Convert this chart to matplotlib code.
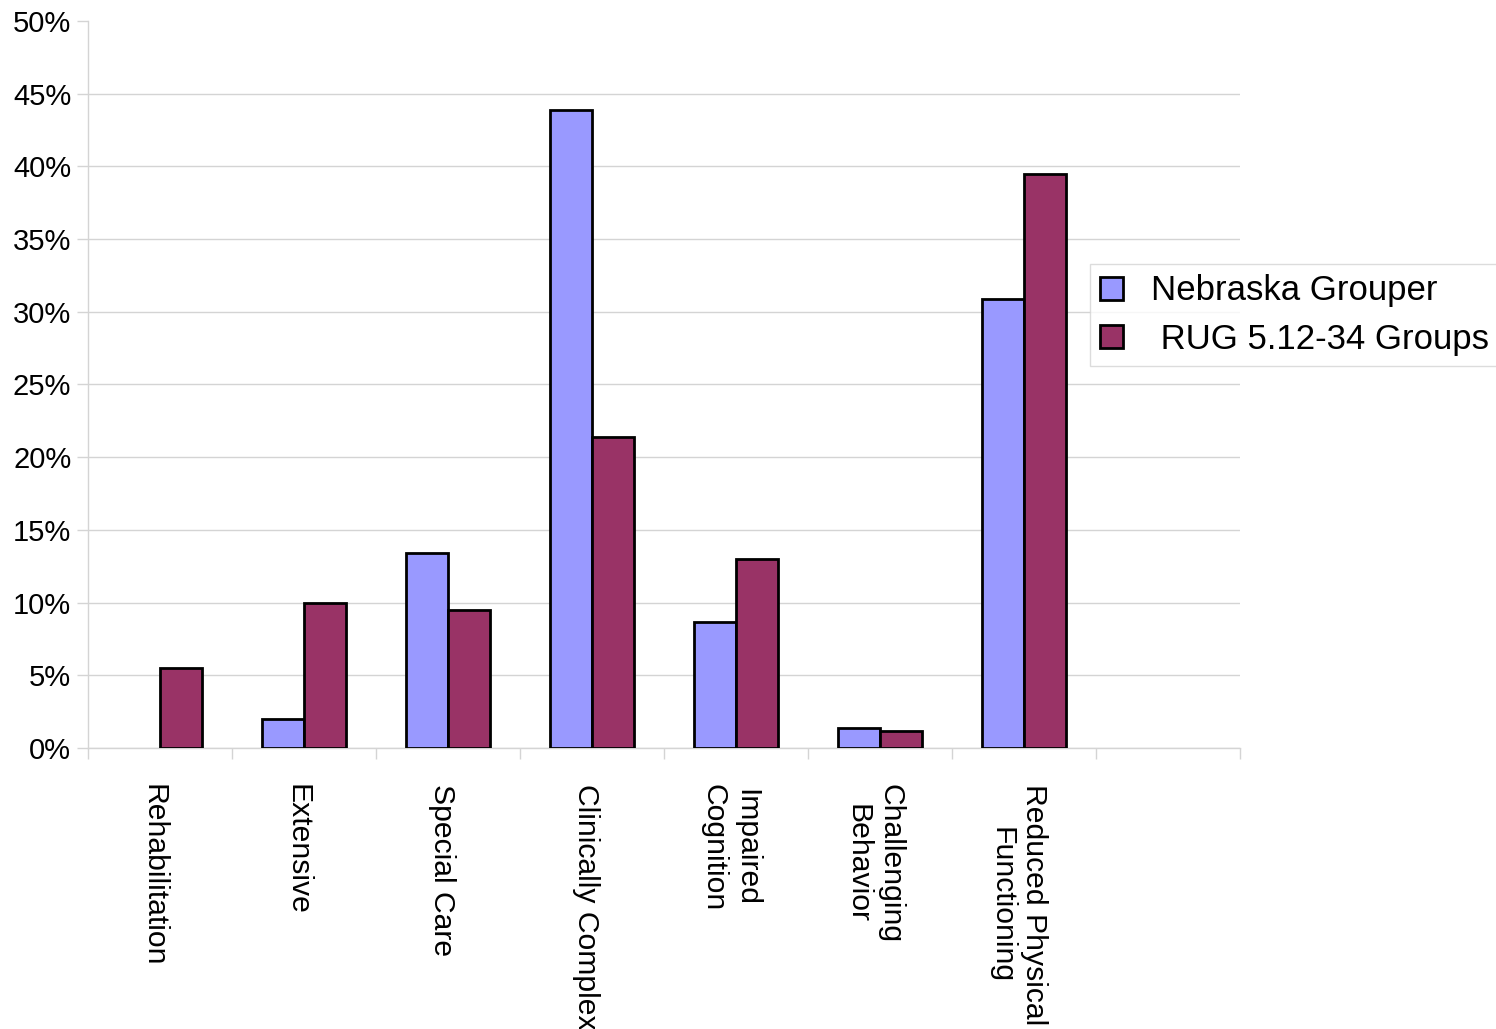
import numpy as np
import matplotlib
matplotlib.use('Agg')
import matplotlib.pyplot as plt
import matplotlib.transforms as mtransforms
from matplotlib.ticker import FixedLocator

plt.rcParams['font.family'] = ['Liberation Sans', 'DejaVu Sans']

# Data (percent of residents); None = no bar
categories = ['Rehabilitation', 'Extensive', 'Special Care', 'Clinically Complex',
              'Impaired\nCognition', 'Challenging\nBehavior',
              'Reduced Physical\nFunctioning', '']
nebraska = [None, 2.0, 13.4, 43.9, 8.7, 1.4, 30.9, None]
rug = [5.5, 10.0, 9.5, 21.4, 13.0, 1.2, 39.5, None]
series_names = ['Nebraska Grouper', ' RUG 5.12-34 Groups']
y_ticks = list(range(0, 51, 5))

grid_col = '#d4d4d4'

fig = plt.figure(figsize=(14.96, 10.29), dpi=100)
ax = fig.add_axes([0.0588, 0.273, 0.7701, 0.7068])

x = np.arange(len(categories)) + 0.5
w = 0.29
neb = np.array([np.nan if v is None else v for v in nebraska])
rg = np.array([np.nan if v is None else v for v in rug])
ax.bar(x - w / 2, neb, w, color='#9999FF', edgecolor='black',
       linewidth=2.0, label=series_names[0], zorder=3)
ax.bar(x + w / 2, rg, w, color='#993366', edgecolor='black',
       linewidth=2.0, label=series_names[1], zorder=3)

ax.set_xlim(0, len(categories))
ax.set_ylim(0, 50)
ax.set_yticks(y_ticks)
ax.set_yticklabels([f'{t}%' for t in y_ticks], fontsize=21)
ax.yaxis.grid(True, color=grid_col, linewidth=1.0, zorder=0)
ax.yaxis.get_gridlines()[-1].set_visible(False)

# category labels at slot centers, tick marks at slot boundaries
ax.set_xticks(x)
ax.set_xticklabels(categories, rotation=270, fontsize=21.7, ha='center',
                   va='top', multialignment='center')
ax.tick_params(axis='x', which='major', length=0, pad=26)
shift = mtransforms.ScaledTranslation(-6 / 100, 0, fig.dpi_scale_trans)
for lbl in ax.get_xticklabels():
    lbl.set_transform(lbl.get_transform() + shift)
ax.xaxis.set_minor_locator(FixedLocator(np.arange(len(categories) + 1)))
ax.tick_params(axis='x', which='minor', length=8, color=grid_col, width=1.0)
ax.tick_params(axis='y', length=8, color=grid_col, width=1.0, pad=4)

for side in ['top', 'right']:
    ax.spines[side].set_visible(False)
for side in ['left', 'bottom']:
    ax.spines[side].set_color(grid_col)
    ax.spines[side].set_linewidth(1.0)

leg = fig.legend(loc='upper left', bbox_to_anchor=(0.7286, 0.7434),
                 fontsize=25, frameon=True, fancybox=False,
                 handlelength=0.65, handleheight=0.65, handletextpad=0.8,
                 borderpad=0.3, labelspacing=0.45, borderaxespad=0)
leg.get_frame().set_edgecolor(grid_col)
leg.get_frame().set_linewidth(1.0)

fig.savefig('out.png', dpi=100, facecolor='white')
